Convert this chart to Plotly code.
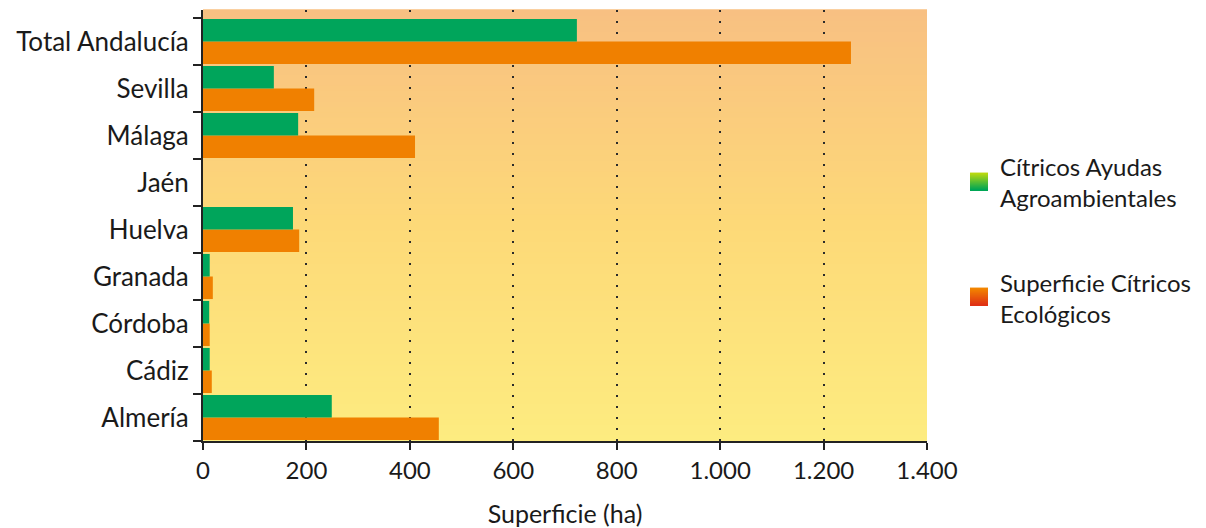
import plotly.graph_objects as go

# Superficie de cítricos por provincia (ha)
provincias = ["Almería", "Cádiz", "Córdoba", "Granada", "Huelva",
              "Jaén", "Málaga", "Sevilla", "Total Andalucía"]
ayudas_agroambientales = [249, 13, 12, 13, 174, 0, 184, 137, 723]
superficie_ecologica = [456, 17, 13, 19, 186, 0, 410, 215, 1253]

x_ticks = [0, 200, 400, 600, 800, 1000, 1200, 1400]
x_tick_labels = ["0", "200", "400", "600", "800", "1.000", "1.200", "1.400"]

FONT = "Lato, Open Sans, sans-serif"
TEXT = "#1a1a1a"
VERDE = "#00A55B"
NARANJA = "#F08000"

fig = go.Figure()
# Orange trace first so the green bar sits above it within each group
fig.add_trace(go.Bar(y=provincias, x=superficie_ecologica, orientation="h",
                     name="Superficie Cítricos Ecológicos",
                     marker=dict(color=NARANJA, line=dict(width=0))))
fig.add_trace(go.Bar(y=provincias, x=ayudas_agroambientales, orientation="h",
                     name="Cítricos Ayudas Agroambientales",
                     marker=dict(color=VERDE, line=dict(width=0))))

# Vertical background gradient for the plot area (peach at top, yellow at bottom)
def lerp(c1, c2, t):
    return tuple(round(a + (b - a) * t) for a, b in zip(c1, c2))

stops = [(0xFD, 0xEC, 0x80), (0xFD, 0xD9, 0x78), (0xF8, 0xC0, 0x82)]
n = 80
shapes = []
for i in range(n):
    t = (i + 0.5) / n
    if t <= 0.5:
        c = lerp(stops[0], stops[1], t / 0.5)
    else:
        c = lerp(stops[1], stops[2], (t - 0.5) / 0.5)
    shapes.append(dict(type="rect", xref="x domain", yref="y domain",
                       x0=0, x1=1, y0=i / n, y1=(i + 1) / n + 0.002,
                       fillcolor="rgb(%d,%d,%d)" % c, line=dict(width=0),
                       layer="below"))

# Legend swatches with a small vertical gradient
def swatch(x0, y0, top, bottom, steps=9):
    out = []
    h = 18
    for k in range(steps):
        t = k / (steps - 1)
        c = lerp(top, bottom, t)
        out.append(dict(type="rect", xref="paper", yref="paper",
                        x0=x0, x1=x0 + 18 / 724,
                        y0=y0 - (k + 1) * h / steps / 431,
                        y1=y0 - k * h / steps / 431 + 0.001,
                        fillcolor="rgb(%d,%d,%d)" % c, line=dict(width=0)))
    return out

sx = (970 - 203) / 724
shapes += swatch(sx, (441 - 173) / 431, (0xB8, 0xD8, 0x10), (0x00, 0xA6, 0x55))
shapes += swatch(sx, (441 - 288) / 431, (0xF2, 0x85, 0x00), (0xE0, 0x32, 0x14))

annotations = [
    dict(xref="paper", yref="paper", x=(998 - 203) / 724, y=(441 - 182) / 431,
         text="Cítricos Ayudas<br>Agroambientales", showarrow=False,
         xanchor="left", yanchor="middle", align="left",
         font=dict(family=FONT, size=24, color=TEXT)),
    dict(xref="paper", yref="paper", x=(998 - 203) / 724, y=(441 - 298) / 431,
         text="Superficie Cítricos<br>Ecológicos", showarrow=False,
         xanchor="left", yanchor="middle", align="left",
         font=dict(family=FONT, size=24, color=TEXT)),
]

fig.update_layout(
    width=1206, height=528,
    margin=dict(l=203, r=279, t=10, b=87),
    paper_bgcolor="white",
    plot_bgcolor="rgba(0,0,0,0)",
    barmode="group", bargap=0.04, bargroupgap=0,
    showlegend=False,
    shapes=shapes,
    annotations=annotations,
    font=dict(family=FONT, color=TEXT),
    xaxis=dict(range=[0, 1400], tickvals=x_ticks, ticktext=x_tick_labels,
               automargin=False,
               showgrid=True, gridcolor="#2a2a2a", griddash="2px,9px", gridwidth=2,
               zeroline=False, showline=True, linecolor="#222222", linewidth=2,
               ticks="outside", ticklen=7, tickcolor="#222222", tickwidth=2,
               tickfont=dict(size=24, family=FONT, color=TEXT),
               title=dict(text="Superficie (ha)", font=dict(size=25, family=FONT, color=TEXT),
                          standoff=26)),
    yaxis=dict(categoryorder="array", categoryarray=provincias,
               automargin=False,
               range=[-0.5, 8.5 + 8 / 47], tickson="boundaries",
               showgrid=False, zeroline=False, showline=True,
               linecolor="#222222", linewidth=2,
               ticks="outside", ticklen=8, tickcolor="#222222", tickwidth=2,
               tickfont=dict(size=26, family=FONT, color=TEXT), ticklabelstandoff=7),
)

fig.write_html("out.html")
